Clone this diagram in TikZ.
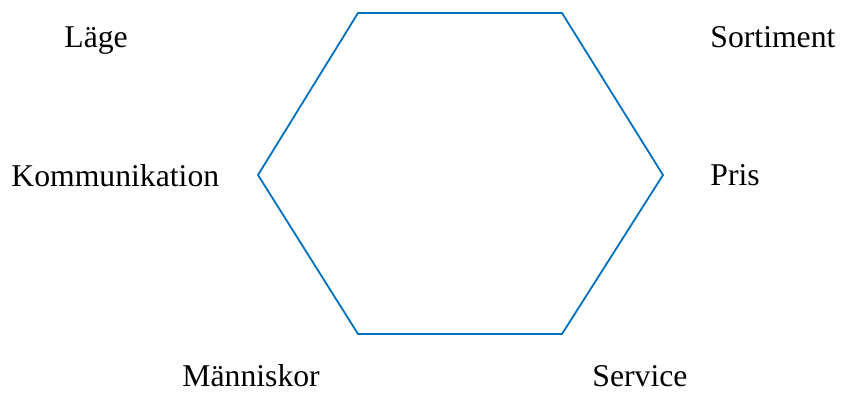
\documentclass[tikz,border=0pt]{standalone}
\usepackage{fontspec}
\setmainfont{Liberation Serif}
\usepackage{xcolor}
\usetikzlibrary{positioning}
\definecolor{hexblue}{RGB}{0,112,192}

\begin{document}
\begin{tikzpicture}[
    x=0.5pt, y=-0.5pt,
    factor/.style={inner sep=0pt, anchor=base west, font=\fontsize{15.85}{18}\selectfont},
    hexline/.style={draw=hexblue, line width=0.9pt, line join=miter}
]
    \useasboundingbox (0,0) rectangle (841,394);

    % hexagon corners
    \coordinate (tl) at (358,13);
    \coordinate (tr) at (562,13);
    \coordinate (r) at (663,175);
    \coordinate (br) at (562,334);
    \coordinate (bl) at (358,334);
    \coordinate (l) at (258,175);
    \draw[hexline] (tl) -- (tr) -- (r) -- (br) -- (bl) -- (l) -- cycle;

    % labels
    \node[factor] (lage) at (64,47.5) {Läge};
    \node[factor] (sortiment) at (710,48) {Sortiment};
    \node[factor] (kommunikation) at (11,186.5) {Kommunikation};
    \node[factor] (pris) at (710,186) {Pris};
    \node[factor] (manniskor) at (182,387) {Människor};
    \node[factor] (service) at (592,387) {Service};
\end{tikzpicture}
\end{document}
